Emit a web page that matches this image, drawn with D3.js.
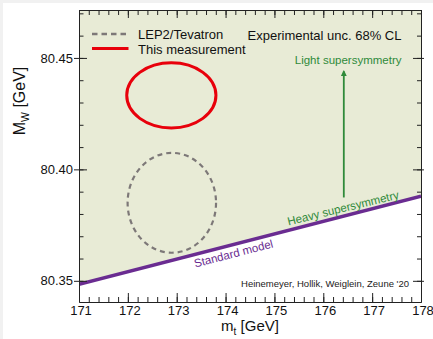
<!DOCTYPE html>
<html>
<head>
<meta charset="utf-8">
<script src="https://cdn.jsdelivr.net/npm/d3@7"></script>
<style>
  body { margin: 0; background: #fff; }
  svg { display: block; font-family: "Liberation Sans", Arial, sans-serif; }
</style>
</head>
<body>
<div id="chart"></div>
<script>
// axis ticks
var xTicks = [171, 172, 173, 174, 175, 176, 177, 178];
var yTicks = [80.35, 80.40, 80.45];

// standard model band edge (m_t, M_W)
var smMt = [171, 178];
var smMw = [80.3484, 80.3880];

// 68% CL ellipses: LEP2/Tevatron, This measurement
var ellipseNames = ['LEP2/Tevatron', 'This measurement'];
var ellipseMt = [172.90, 172.89];
var ellipseMw = [80.3850, 80.4332];
var ellipseDMt = [0.905, 0.913];
var ellipseDMw = [0.0224, 0.0146];

// light susy arrow
var arrowMt = 176.42;
var arrowMw = [80.3874, 80.4440];

var W = 433, H = 339;
var margin = {left: 79, top: 10, right: 12, bottom: 37};

var svg = d3.select('#chart').append('svg')
    .attr('width', W).attr('height', H);

// light gray frame like the picture
svg.append('rect').attr('width', W).attr('height', H).attr('fill', '#f1f1f1');
svg.append('rect').attr('x', 3).attr('y', 3).attr('width', W - 3).attr('height', H - 3).attr('fill', '#fff');

var x = d3.scaleLinear().domain([171, 178]).range([margin.left, W - margin.right]);
var y = d3.scaleLinear().domain([80.3405, 80.4715]).range([H - margin.bottom, margin.top]);

var x0 = x.range()[0], x1 = x.range()[1], yb = y.range()[0], yt = y.range()[1];

svg.append('clipPath').attr('id', 'clip')
    .append('rect').attr('x', x0).attr('y', yt).attr('width', x1 - x0).attr('height', yb - yt);

var plot = svg.append('g').attr('clip-path', 'url(#clip)');

var smData = smMt.map(function (d, i) { return {mt: d, mw: smMw[i]}; });

// allowed region above SM line
plot.append('path')
    .datum(smData)
    .attr('fill', '#e8ebd6')
    .attr('d', d3.area()
        .x(function (d) { return x(d.mt); })
        .y0(function () { return yt - 5; })
        .y1(function (d) { return y(d.mw); }));

// ellipses
var ellStyle = [
    {stroke: '#7d7878', width: 2.2, dash: '5,4'},
    {stroke: '#e8000b', width: 3, dash: null}
];
ellipseNames.forEach(function (name, i) {
    plot.append('ellipse')
        .attr('cx', x(ellipseMt[i]))
        .attr('cy', y(ellipseMw[i]))
        .attr('rx', x(ellipseMt[i] + ellipseDMt[i]) - x(ellipseMt[i]))
        .attr('ry', y(ellipseMw[i]) - y(ellipseMw[i] + ellipseDMw[i]))
        .attr('fill', 'none')
        .attr('stroke', ellStyle[i].stroke)
        .attr('stroke-width', ellStyle[i].width)
        .attr('stroke-dasharray', ellStyle[i].dash);
});

// SM line
plot.append('path')
    .datum(smData)
    .attr('fill', 'none')
    .attr('stroke', '#6a2c91')
    .attr('stroke-width', 3.5)
    .attr('d', d3.line().x(function (d) { return x(d.mt); }).y(function (d) { return y(d.mw); }));

// arrow
var green = '#2f8a3a';
svg.append('defs').append('marker')
    .attr('id', 'head').attr('viewBox', '0 0 10 10')
    .attr('refX', 8).attr('refY', 5)
    .attr('markerWidth', 3.5).attr('markerHeight', 3.5)
    .attr('orient', 'auto')
    .append('path').attr('d', 'M0,0 L10,5 L0,10 z').attr('fill', green);
svg.append('line')
    .attr('x1', x(arrowMt)).attr('x2', x(arrowMt))
    .attr('y1', y(arrowMw[0])).attr('y2', y(arrowMw[1]))
    .attr('stroke', green).attr('stroke-width', 1.8)
    .attr('marker-end', 'url(#head)');

svg.append('text')
    .attr('x', 401.5).attr('y', 64)
    .attr('text-anchor', 'end')
    .attr('font-size', '11.5px')
    .attr('fill', green)
    .text('Light supersymmetry');

var smAngle = Math.atan2(y(smMw[0]) - y(smMw[1]), x(smMt[1]) - x(smMt[0])) * 180 / Math.PI;

svg.append('text')
    .attr('transform', 'translate(343,208) rotate(' + (-smAngle + 0.8) + ')')
    .attr('text-anchor', 'middle').attr('dy', '0.35em')
    .attr('font-size', '11.5px').attr('fill', green)
    .text('Heavy supersymmetry');

svg.append('text')
    .attr('transform', 'translate(233.5,253.5) rotate(' + (-smAngle) + ')')
    .attr('text-anchor', 'middle').attr('dy', '0.35em')
    .attr('font-size', '11.5px').attr('fill', '#6a2c91')
    .text('Standard model');

svg.append('text')
    .attr('x', 409).attr('y', 286.5)
    .attr('text-anchor', 'end')
    .attr('font-size', '9.5px').attr('fill', '#222')
    .text("Heinemeyer, Hollik, Weiglein, Zeune '20");

// legend
var legY = [34, 48.5];
ellipseNames.forEach(function (name, i) {
    svg.append('line')
        .attr('x1', 92).attr('x2', 128.5)
        .attr('y1', legY[i]).attr('y2', legY[i])
        .attr('stroke', ellStyle[i].stroke)
        .attr('stroke-width', i === 0 ? 2.5 : 3)
        .attr('stroke-dasharray', i === 0 ? '5.5,4' : null);
    svg.append('text')
        .attr('x', 138).attr('y', legY[i] + 5)
        .attr('font-size', '13px').attr('fill', '#111')
        .text(name);
});
svg.append('text')
    .attr('x', 401.5).attr('y', 39.5)
    .attr('text-anchor', 'end')
    .attr('font-size', '13px').attr('fill', '#111')
    .text('Experimental unc. 68% CL');

// axes
var xMinor = d3.range(171, 178.001, 0.2);
var yMinor = d3.range(80.35, 80.4701, 0.01);

var axisG = svg.append('g');
// bottom
axisG.append('g').attr('transform', 'translate(0,' + yb + ')')
    .call(d3.axisTop(x).tickValues(xMinor).tickSize(5).tickSizeOuter(0).tickFormat(''));
axisG.append('g').attr('transform', 'translate(0,' + yb + ')')
    .call(d3.axisTop(x).tickValues(xTicks).tickSize(9).tickSizeOuter(0).tickFormat(''));
axisG.append('g').attr('transform', 'translate(1.5,' + yb + ')')
    .call(d3.axisBottom(x).tickValues(xTicks).tickSize(0).tickPadding(4).tickFormat(d3.format('d')))
    .call(function (g) { g.select('.domain').remove(); })
    .selectAll('text').attr('font-size', '13px').attr('font-family', 'Liberation Sans, Arial, sans-serif').attr('fill', '#111');
// top
axisG.append('g').attr('transform', 'translate(0,' + yt + ')')
    .call(d3.axisBottom(x).tickValues(xMinor).tickSize(5).tickSizeOuter(0).tickFormat(''));
axisG.append('g').attr('transform', 'translate(0,' + yt + ')')
    .call(d3.axisBottom(x).tickValues(xTicks).tickSize(8).tickSizeOuter(0).tickFormat(''));
// left
axisG.append('g').attr('transform', 'translate(' + x0 + ',0)')
    .call(d3.axisRight(y).tickValues(yMinor).tickSize(4.5).tickSizeOuter(0).tickFormat(''));
axisG.append('g').attr('transform', 'translate(' + (x0 - 5) + ',0)')
    .call(d3.axisRight(y).tickValues(yTicks).tickSize(13).tickSizeOuter(0).tickFormat(''))
    .call(function (g) { g.select('.domain').remove(); });
axisG.append('g').attr('transform', 'translate(' + (x0 - 5) + ',0)')
    .call(d3.axisLeft(y).tickValues(yTicks).tickSize(0).tickPadding(1).tickFormat(d3.format('.2f')))
    .call(function (g) { g.select('.domain').remove(); })
    .selectAll('text').attr('font-size', '13px').attr('font-family', 'Liberation Sans, Arial, sans-serif').attr('fill', '#111');
// right
axisG.append('g').attr('transform', 'translate(' + x1 + ',0)')
    .call(d3.axisLeft(y).tickValues(yMinor).tickSize(4).tickSizeOuter(0).tickFormat(''));
axisG.append('g').attr('transform', 'translate(' + (x1 + 3) + ',0)')
    .call(d3.axisLeft(y).tickValues(yTicks).tickSize(11).tickSizeOuter(0).tickFormat(''))
    .call(function (g) { g.select('.domain').remove(); });

axisG.selectAll('.tick line').attr('stroke', '#222');
axisG.selectAll('.domain').attr('stroke', '#222');

// axis titles
var xt = svg.append('text')
    .attr('x', x(174.5)).attr('y', 331)
    .attr('text-anchor', 'middle')
    .attr('font-size', '15px').attr('fill', '#111');
xt.append('tspan').text('m');
xt.append('tspan').attr('font-size', '10px').attr('dy', 4).text('t');
xt.append('tspan').attr('dy', -4).text(' [GeV]');

var yt2 = svg.append('text')
    .attr('transform', 'translate(25,101) rotate(-90)')
    .attr('text-anchor', 'middle')
    .attr('font-size', '16px').attr('fill', '#111');
yt2.append('tspan').text('M');
yt2.append('tspan').attr('font-size', '10.5px').attr('dy', 4).text('W');
yt2.append('tspan').attr('dy', -4).text(' [GeV]');
</script>
</body>
</html>
